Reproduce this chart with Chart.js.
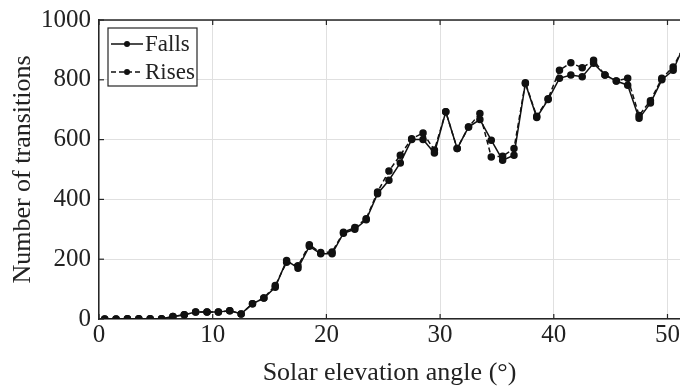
<!DOCTYPE html>
<html>
<head>
<meta charset="utf-8">
<script src="https://cdn.jsdelivr.net/npm/chart.js@4"></script>
<style>
  html, body { margin:0; padding:0; background:#fff; }
  #wrap { width:680px; height:386px; position:relative; }
</style>
</head>
<body>
<div id="wrap"><canvas id="chart" width="680" height="386"></canvas></div>
<script>
// Data
const angles = [0.5,1.5,2.5,3.5,4.5,5.5,6.5,7.5,8.5,9.5,10.5,11.5,12.5,13.5,14.5,15.5,16.5,17.5,18.5,19.5,
  20.5,21.5,22.5,23.5,24.5,25.5,26.5,27.5,28.5,29.5,30.5,31.5,32.5,33.5,34.5,35.5,36.5,37.5,38.5,39.5,
  40.5,41.5,42.5,43.5,44.5,45.5,46.5,47.5,48.5,49.5,50.5,51.5];
const falls = [0,0,1,1,1,1,8,14,23,23,23,28,17,51,70,106,196,170,243,218,
  218,287,300,332,419,464,522,600,600,555,693,570,642,667,598,531,548,788,674,734,
  805,816,810,855,816,796,782,671,722,800,832,920];
const rises = [0,0,1,1,1,1,8,14,23,23,23,28,17,51,70,112,190,178,248,222,
  224,290,306,335,425,495,548,603,622,565,693,570,642,687,542,544,570,790,678,737,
  832,857,840,865,816,796,805,681,730,805,843,915];
const xTicks = [0,10,20,30,40,50];
const yTicks = [0,200,400,600,800,1000];

const FONT = "'Liberation Serif', 'Times New Roman', serif";
const INK = '#222';
const AXIS = '#262626';

const pts = (arr)=> angles.map((a,i)=>({x:a, y:arr[i]}));

// box top edge, inward ticks, legend inside the axes
const boxPlugin = {
  id:'box',
  afterDatasetsDraw(chart){
    const {ctx, chartArea:a, scales:{x, y}} = chart;
    ctx.save();
    ctx.strokeStyle = AXIS; ctx.lineWidth = 1.5;
    ctx.beginPath(); ctx.moveTo(a.left, a.top); ctx.lineTo(a.right, a.top); ctx.stroke();
    ctx.lineWidth = 1.2;
    const tl = 5;
    xTicks.forEach(v=>{
      const px = x.getPixelForValue(v);
      ctx.beginPath();
      ctx.moveTo(px, a.bottom); ctx.lineTo(px, a.bottom - tl);
      ctx.moveTo(px, a.top); ctx.lineTo(px, a.top + tl);
      ctx.stroke();
    });
    yTicks.forEach(v=>{
      const py = y.getPixelForValue(v);
      ctx.beginPath(); ctx.moveTo(a.left, py); ctx.lineTo(a.left + tl, py); ctx.stroke();
    });

    // legend
    const lx = 108, ly = 28, lw = 89, lh = 58;
    ctx.fillStyle = '#fff';
    ctx.fillRect(lx, ly, lw, lh);
    ctx.strokeStyle = AXIS; ctx.lineWidth = 1.2;
    ctx.strokeRect(lx, ly, lw, lh);
    chart.data.datasets.forEach((ds, i)=>{
      const cy = ly + 16 + i*28;
      ctx.strokeStyle = ds.borderColor; ctx.lineWidth = ds.borderWidth;
      ctx.setLineDash(ds.borderDash || []);
      ctx.beginPath(); ctx.moveTo(lx + 3, cy); ctx.lineTo(lx + 35, cy); ctx.stroke();
      ctx.setLineDash([]);
      ctx.fillStyle = ds.pointBackgroundColor;
      ctx.beginPath(); ctx.arc(lx + 19, cy, ds.pointRadius, 0, Math.PI*2); ctx.fill();
      ctx.fillStyle = INK;
      ctx.font = '23px ' + FONT;
      ctx.textBaseline = 'middle';
      ctx.fillText(ds.label, lx + 37, cy + 1);
    });
    ctx.restore();
  }
};

new Chart(document.getElementById('chart'), {
  type:'line',
  data:{
    datasets:[
      { label:'Falls', data:pts(falls), borderColor:'#111', backgroundColor:'#111',
        pointBackgroundColor:'#111', pointBorderColor:'#111', borderWidth:1.5, pointRadius:3, tension:0 },
      { label:'Rises', data:pts(rises), borderColor:'#111', backgroundColor:'#111', borderDash:[5,3],
        pointBackgroundColor:'#111', pointBorderColor:'#111', borderWidth:1.5, pointRadius:3, tension:0 }
    ]
  },
  options:{
    responsive:false,
    animation:false,
    layout:{ autoPadding:false, padding:{ top:20, right:0, left:0, bottom:0 } },
    plugins:{ legend:{ display:false }, tooltip:{ enabled:false } },
    scales:{
      x:{
        type:'linear', min:0, max:51.1,
        afterBuildTicks:(s)=>{ s.ticks = xTicks.map(v=>({value:v})); },
        afterFit:(s)=>{ s.height = 67; s.paddingRight = 0; s.paddingLeft = 0; },
        grid:{ color:'#e0e0e0', lineWidth:1, drawTicks:false },
        border:{ color:AXIS, width:1.5 },
        ticks:{ padding:1, color:INK, font:{ family:FONT, size:25 }, maxRotation:0,
          callback:(v)=> String(v) },
        title:{ display:true, text:'Solar elevation angle (°)', color:INK,
          font:{ family:FONT, size:26, lineHeight:1 }, padding:{ top:0, bottom:0 } }
      },
      y:{
        min:0, max:1000,
        afterBuildTicks:(s)=>{ s.ticks = yTicks.map(v=>({value:v})); },
        afterFit:(s)=>{ s.width = 99; s.paddingTop = 0; s.paddingBottom = 0; },
        grid:{ color:'#e0e0e0', lineWidth:1, drawTicks:false },
        border:{ color:AXIS, width:1.5 },
        ticks:{ padding:8, color:INK, font:{ family:FONT, size:25 },
          callback:(v)=> String(v) },
        title:{ display:true, text:'Number of transitions', color:INK,
          font:{ family:FONT, size:26 }, padding:{ top:8, bottom:0 } }
      }
    }
  },
  plugins:[boxPlugin]
});
</script>
</body>
</html>
